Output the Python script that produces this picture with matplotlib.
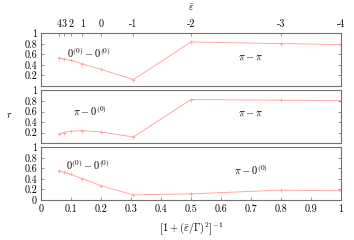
import numpy as np
import matplotlib
matplotlib.use('Agg')
import matplotlib.pyplot as plt

plt.rcParams['font.family'] = 'serif'
plt.rcParams['font.serif'] = ['cmr10', 'DejaVu Serif']
plt.rcParams['mathtext.fontset'] = 'cm'
plt.rcParams['axes.unicode_minus'] = False

''' --->> Data <<--- '''
eps = [4, 3, 2, 1, 0, -1, -2, -3, -4]
# x = [1 + (eps_bar / Gamma)^2]^-1  with eps_bar = eps + 4, Gamma = 2
x = [0.0588, 0.0755, 0.1, 0.138, 0.2, 0.308, 0.5, 0.8, 1.0]

r_00_pipi = [0.54, 0.515, 0.485, 0.42, 0.315, 0.12, 0.836, 0.805, 0.787]
r_pi0_pipi = [0.167, 0.20, 0.225, 0.237, 0.21, 0.115, 0.827, 0.815, 0.81]
r_00_pi0 = [0.558, 0.53, 0.487, 0.404, 0.27, 0.096, 0.115, 0.186, 0.173]

xticks = [0, 0.1, 0.2, 0.3, 0.4, 0.5, 0.6, 0.7, 0.8, 0.9, 1]
xticklabels = ['0', '0.1', '0.2', '0.3', '0.4', '0.5', '0.6', '0.7', '0.8', '0.9', '1']
eps_labels = ['4', '3', '2', '1', '0', '-1', '-2', '-3', '-4']

panels = [
    (r_00_pipi, [(0.16, 0.62, r'$0^{(0)}-0^{(0)}$'), (0.70, 0.55, r'$\pi-\pi$')]),
    (r_pi0_pipi, [(0.163, 0.62, r'$\pi-0^{(0)}$'), (0.70, 0.56, r'$\pi-\pi$')]),
    (r_00_pi0, [(0.157, 0.67, r'$0^{(0)}-0^{(0)}$'), (0.70, 0.58, r'$\pi-0^{(0)}$')]),
]

fig = plt.figure(figsize=(3.54, 2.4), dpi=100)
left, width = 0.116, 0.847
bottoms = [0.642, 0.404, 0.167]
height = 0.219
fs = 7.2
line_col = '#ff9d9d'
frame_col = '#707070'

axes = []
for i, (vals, labels) in enumerate(panels):
    ax = fig.add_axes([left, bottoms[i], width, height])
    ax.plot(x, vals, color=line_col, lw=0.6, marker='+', ms=2.5, mew=0.5)
    ax.set_xlim(0, 1)
    ax.set_ylim(0, 1)
    for s in ax.spines.values():
        s.set_color(frame_col)
        s.set_linewidth(0.8)
    if i == 2:
        ax.set_yticks([0, 0.2, 0.4, 0.6, 0.8, 1])
        ax.set_yticklabels(['0', '0.2', '0.4', '0.6', '0.8', '1'])
        ax.set_xticks(xticks)
        ax.set_xticklabels(xticklabels)
    else:
        ax.set_yticks([0.2, 0.4, 0.6, 0.8, 1])
        ax.set_yticklabels(['0.2', '0.4', '0.6', '0.8', '1'])
        ax.set_xticks([])
    ax.tick_params(direction='in', length=2.5, width=0.5, color=frame_col,
                   labelsize=fs, right=True, pad=3)
    for tx, ty, t in labels:
        ax.text(tx, ty, t, ha='center', va='center', fontsize=fs + 0.3)
    axes.append(ax)

# top epsilon axis
top = axes[0].twiny()
top.set_xlim(0, 1)
top.set_xticks(x)
top.set_xticklabels(eps_labels)
top.tick_params(direction='in', length=2.5, width=0.5, color=frame_col,
                labelsize=fs, pad=3)
top.set_xlabel(r'$\bar{\varepsilon}$', fontsize=fs, labelpad=6)
for s in top.spines.values():
    s.set_visible(False)

axes[2].set_xlabel(r'$\left[1+(\bar{\varepsilon}/\Gamma)^2\right]^{-1}$', fontsize=fs + 0.3, labelpad=5)
fig.text(0.025, 0.52, r'$r$', fontsize=fs, ha='center', va='center')

fig.savefig('out.png', dpi=100)
